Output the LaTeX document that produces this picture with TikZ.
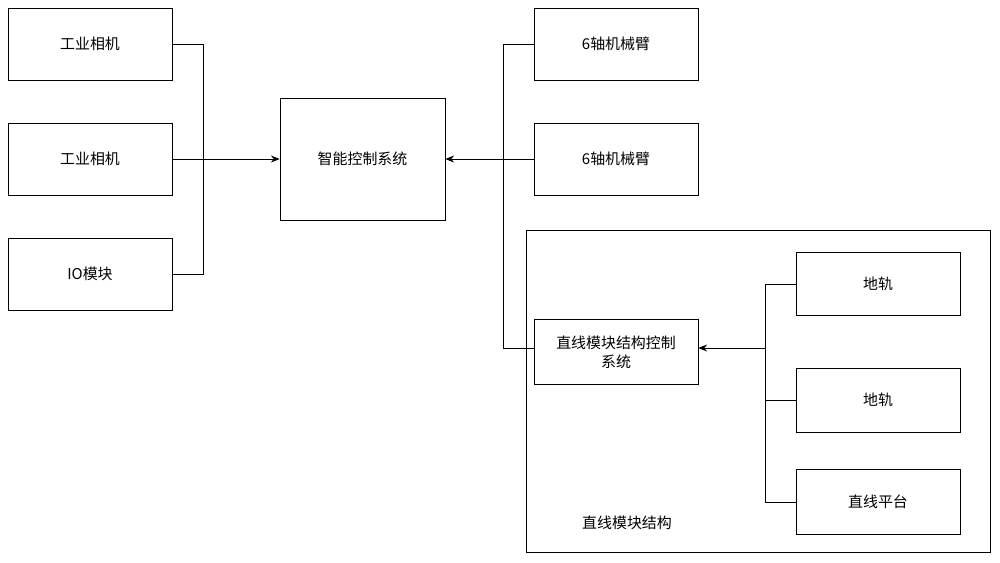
\documentclass[tikz,border=0pt]{standalone}
\usepackage{fontspec}
\setmainfont{Noto Sans CJK SC}
\usetikzlibrary{arrows.meta}
\begin{document}
\begin{tikzpicture}[x=0.02cm,y=-0.02cm,
  box/.style={draw,rectangle,inner sep=1pt,font=\fontsize{8.5}{11}\selectfont,align=center},
  small/.style={box,minimum width=3.28cm,minimum height=1.44cm},
  conn/.style={draw,line width=0.5pt},
  arr/.style={conn,-{Stealth[length=5pt,width=4pt]}}]
  \useasboundingbox (0,0) rectangle (1000,562);

  \node[small] (cam1) at (90, 44) {工业相机};
  \node[small] (cam2) at (90,159) {工业相机};
  \node[small] (io)   at (90,274) {IO模块};

  \node[box,minimum width=3.3cm,minimum height=2.44cm] (ctrl) at (362.5,159) {智能控制系统};

  \node[small] (arm1) at (616, 44) {6轴机械臂};
  \node[small] (arm2) at (616,159) {6轴机械臂};

  \node[draw,rectangle,minimum width=9.28cm,minimum height=6.44cm] (frame) at (758,391) {};
  \node[font=\fontsize{8.5}{11}\selectfont] (fl) at (627,523) {直线模块结构};

  \node[box,minimum width=3.28cm,minimum height=1.3cm,text width=3.1cm] (lin) at (616,352) {直线模块结构控制\\系统};

  \node[small,minimum height=1.26cm] (rail1) at (878,284) {地轨};
  \node[small,minimum height=1.28cm] (rail2) at (878,400) {地轨};
  \node[small,minimum height=1.3cm]  (plat)  at (878,502) {直线平台};

  \coordinate (lj) at (203,159);
  \coordinate (rj) at (503,159);
  \coordinate (ij) at (765,348);

  \draw[conn] (cam1.east) -| (lj);
  \draw[conn] (io.east) -| (lj);
  \draw[arr] (cam2.east) -- (ctrl.west);

  \draw[conn] (arm1.west) -| (rj);
  \draw[conn] (lin.west |- ij) -| (rj);
  \draw[arr] (arm2.west) -- (ctrl.east);

  \draw[conn] (rail1.west) -| (ij);
  \draw[conn] (rail2.west) -| (ij);
  \draw[conn] (plat.west) -| (ij);
  \draw[arr] (ij) -- (lin.east |- ij);
\end{tikzpicture}
\end{document}
